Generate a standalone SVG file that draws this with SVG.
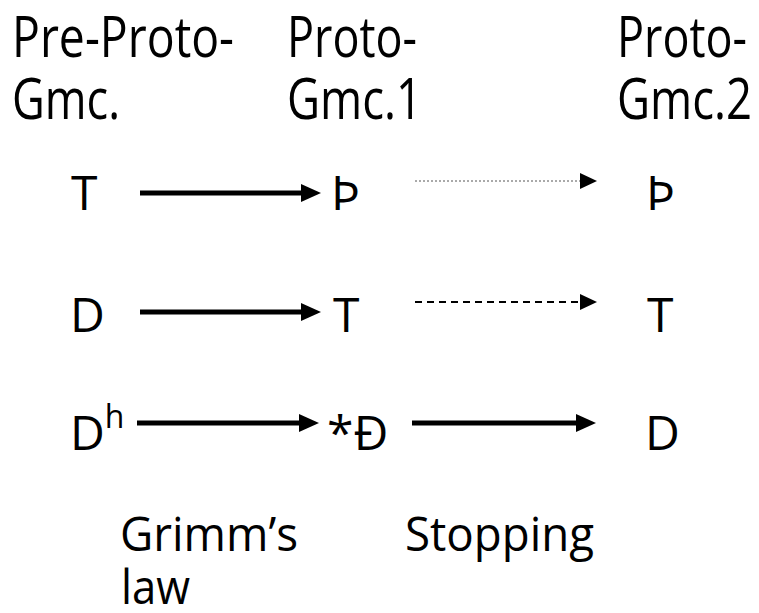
<svg xmlns="http://www.w3.org/2000/svg" width="759" height="613" viewBox="0 0 759 613">
  <style>
    text { font-family: "Open Sans", "Liberation Sans", sans-serif; fill: #000; }
    .hd { font-size: 56px; }
    .ph { font-size: 48px; }
    .lb { font-size: 47px; }
    .sup { font-size: 32px; }
    .solid { stroke: #000; stroke-width: 5; fill: none; }
    .dotted { stroke: #555; stroke-width: 1; stroke-dasharray: 2 2; fill: none; }
    .dashed { stroke: #000; stroke-width: 2; stroke-dasharray: 7 5; fill: none; }
  </style>
  <defs>
    <marker id="headBig" markerUnits="userSpaceOnUse" markerWidth="20" markerHeight="18" refX="1" refY="9" orient="auto">
      <path d="M0,0 L20,9 L0,18 z" fill="#000"/>
    </marker>
    <marker id="headSmall" markerUnits="userSpaceOnUse" markerWidth="17" markerHeight="16" refX="1" refY="8" orient="auto">
      <path d="M0,0 L17,8 L0,16 z" fill="#000"/>
    </marker>
  </defs>
  <rect width="759" height="613" fill="#fff"/>

  <!-- stage headings -->
  <g id="stage-pre">
    <text class="hd" x="12" y="57" textLength="222" lengthAdjust="spacingAndGlyphs">Pre-Proto-</text>
    <text class="hd" x="12" y="119" textLength="108" lengthAdjust="spacingAndGlyphs">Gmc.</text>
  </g>
  <g id="stage-pg1">
    <text class="hd" x="287" y="57" textLength="130" lengthAdjust="spacingAndGlyphs">Proto-</text>
    <text class="hd" x="287" y="119" textLength="135" lengthAdjust="spacingAndGlyphs">Gmc.1</text>
  </g>
  <g id="stage-pg2">
    <text class="hd" x="617" y="57" textLength="130" lengthAdjust="spacingAndGlyphs">Proto-</text>
    <text class="hd" x="617" y="119" textLength="135" lengthAdjust="spacingAndGlyphs">Gmc.2</text>
  </g>

  <!-- sounds -->
  <g id="pre-T"><text class="ph" x="71" y="210">T</text></g>
  <g id="pg1-Thorn"><text class="ph" x="331" y="210">Þ</text></g>
  <g id="pg2-Thorn"><text class="ph" x="646" y="210">Þ</text></g>

  <g id="pre-D"><text class="ph" x="70" y="332">D</text></g>
  <g id="pg1-T"><text class="ph" x="333" y="332">T</text></g>
  <g id="pg2-T"><text class="ph" x="647" y="332">T</text></g>

  <g id="pre-Dh"><text class="ph" x="70" y="450">D<tspan class="sup" dy="-22">h</tspan></text></g>
  <g id="pg1-Eth"><text class="ph" x="327" y="450">*Đ</text></g>
  <g id="pg2-D"><text class="ph" x="645" y="450">D</text></g>

  <!-- change labels -->
  <g id="label-grimm">
    <text class="lb" x="120" y="551" textLength="178" lengthAdjust="spacingAndGlyphs">Grimm’s</text>
    <text class="lb" x="121" y="604" textLength="69" lengthAdjust="spacingAndGlyphs">law</text>
  </g>
  <g id="label-stopping">
    <text class="lb" x="405" y="551" textLength="189" lengthAdjust="spacingAndGlyphs">Stopping</text>
  </g>

  <!-- connectors -->
  <g id="connectors">
    <line class="solid" x1="140" y1="193" x2="302" y2="193" marker-end="url(#headBig)"/>
    <line class="dotted" x1="415" y1="181" x2="581" y2="181" marker-end="url(#headSmall)"/>
    <line class="solid" x1="140" y1="312" x2="302" y2="312" marker-end="url(#headBig)"/>
    <line class="dashed" x1="415" y1="302" x2="581" y2="302" marker-end="url(#headSmall)"/>
    <line class="solid" x1="137" y1="423" x2="300" y2="423" marker-end="url(#headBig)"/>
    <line class="solid" x1="412" y1="423" x2="577" y2="423" marker-end="url(#headBig)"/>
  </g>
</svg>
